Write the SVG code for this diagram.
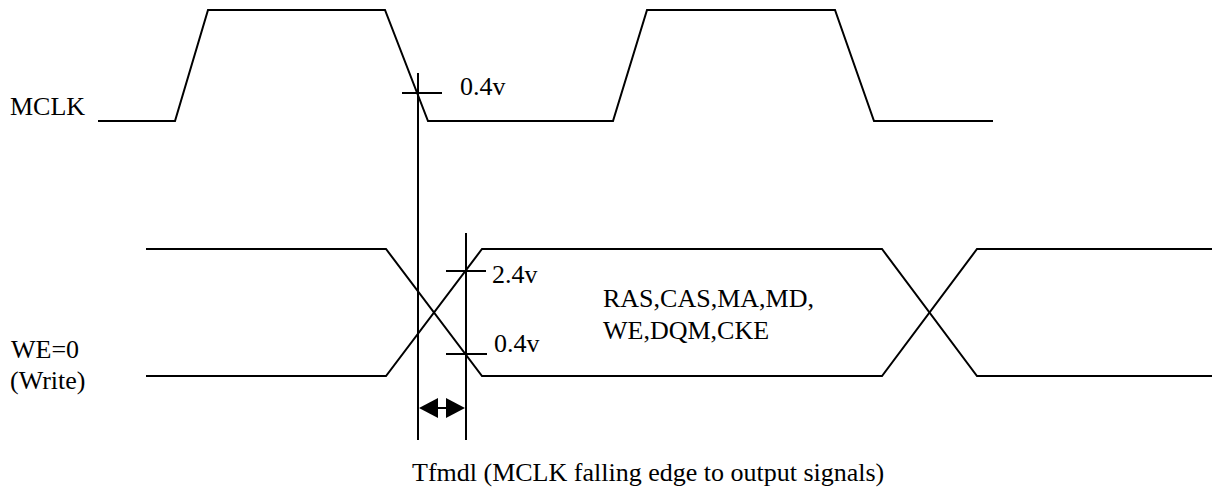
<svg xmlns="http://www.w3.org/2000/svg" width="1212" height="492" viewBox="0 0 1212 492">
<style>
.w{fill:none;stroke:#000;stroke-width:2;stroke-linejoin:miter}
.t{font-family:'Liberation Serif','DejaVu Serif',serif;font-size:26px;fill:#000}
</style>
<rect width="1212" height="492" fill="#fff"/>
<g id="mclk">
<polyline class="w" points="98,121 175,121 208,10 385,10 428,121 613,121 647,10 835,10 874,121 993,121"/>
<text class="t" x="10" y="115">MCLK</text>
</g>
<g id="we">
<polyline class="w" points="146,249 386,249 482,376 882,376 977,249 1212,249"/>
<polyline class="w" points="146,376 386,376 482,249 882,249 977,376 1212,376"/>
<text class="t" x="11" y="358">WE=0</text>
<text class="t" x="10" y="389">(Write)</text>
<text class="t" x="603" y="307">RAS,CAS,MA,MD,</text>
<text class="t" x="603" y="339">WE,DQM,CKE</text>
</g>
<g id="markers">
<line class="w" x1="418" y1="73" x2="418" y2="440"/>
<line class="w" x1="402" y1="93" x2="442" y2="93"/>
<text class="t" x="460" y="95">0.4v</text>
<line class="w" x1="466" y1="233" x2="466" y2="440"/>
<line class="w" x1="446" y1="271" x2="486" y2="271"/>
<text class="t" x="492" y="283">2.4v</text>
<line class="w" x1="446" y1="354" x2="487" y2="354"/>
<text class="t" x="494" y="352">0.4v</text>
</g>
<g id="interval">
<line class="w" x1="430" y1="408" x2="454" y2="408"/>
<polygon points="419,408 438,398 438,418" fill="#000"/>
<polygon points="465,408 446,398 446,418" fill="#000"/>
<text class="t" x="412" y="481">Tfmdl (MCLK falling edge to output signals)</text>
</g>
</svg>
